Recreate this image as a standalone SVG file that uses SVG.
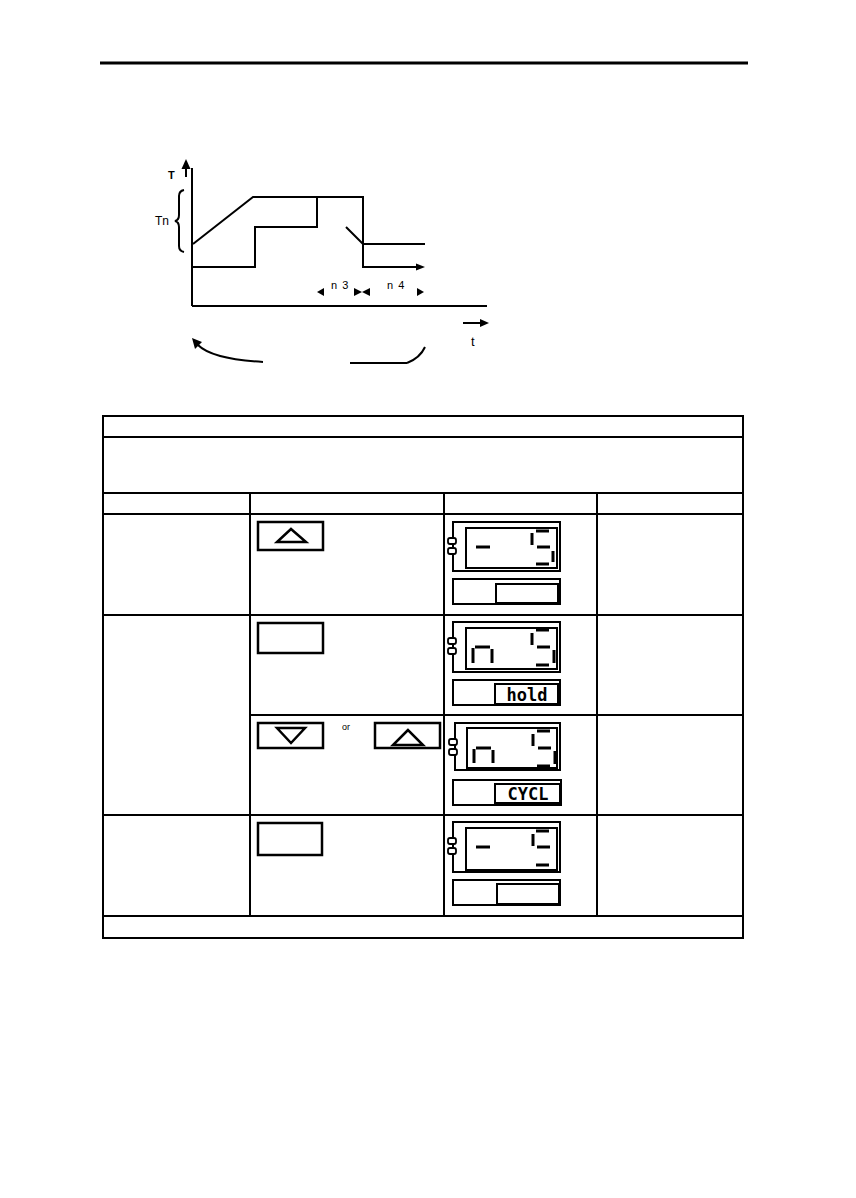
<svg xmlns="http://www.w3.org/2000/svg" width="856" height="1198" viewBox="0 0 856 1198">
<style>
.ln{stroke:#000;stroke-width:2;fill:none}
.tb{stroke:#000;stroke-width:2;fill:none}
.btn{stroke:#000;stroke-width:2.5;fill:#fff}
.tri{stroke:#000;stroke-width:2.5;fill:none;stroke-linejoin:miter}
.disp{stroke:#000;stroke-width:2;fill:#fff}
.seg{stroke:#000;stroke-width:3;stroke-linecap:butt}
.led{stroke:#000;stroke-width:1.8;fill:#fff}
.lbl{font-family:"Liberation Sans",Arial,sans-serif;fill:#000}
.dtxt{font-family:"DejaVu Sans Mono","Liberation Mono",monospace;font-size:17px;font-weight:bold;fill:#000}
</style>
<rect width="856" height="1198" fill="#fff"/>
<line x1="100" y1="63" x2="748" y2="63" stroke="#000" stroke-width="3"/>

<g id="graph">
  <line class="ln" x1="192" y1="168" x2="192" y2="306" stroke-width="2.5"/>
  <line class="ln" x1="192" y1="306" x2="487" y2="306"/>
  <line class="ln" x1="186" y1="177" x2="186" y2="166"/>
  <polygon points="186,159 181.5,169 190.5,169" fill="#000"/>
  <text class="lbl" x="168" y="179" font-size="11" font-weight="bold">T</text>
  <path class="ln" stroke-width="1.2" d="M184,190 Q179,191 179,196 L179,215 Q179,220 175,221 Q179,222 179,227 L179,246 Q179,251 184,252"/>
  <text class="lbl" x="155" y="225" font-size="12">Tn</text>
  <polyline class="ln" points="193,244 253,197 363,197 363,267 418,267"/>
  <polygon points="425,267 416,263.5 416,270.5" fill="#000"/>
  <polyline class="ln" points="193,267 255,267 255,227 317,227 317,197"/>
  <polyline class="ln" points="346,227 363,244 425,244"/>
  <polygon points="317,292 324,288 324,296" fill="#000"/>
  <text class="lbl" x="331" y="289" font-size="11" letter-spacing="1">n 3</text>
  <polygon points="354,288 354,296 362,292" fill="#000"/>
  <polygon points="370,288 370,296 362,292" fill="#000"/>
  <text class="lbl" x="387" y="289" font-size="11" letter-spacing="1">n 4</text>
  <polygon points="424,292 417,288 417,296" fill="#000"/>
  <line class="ln" x1="463" y1="323" x2="481" y2="323"/>
  <polygon points="489,323 480,319 480,327" fill="#000"/>
  <text class="lbl" x="471" y="346" font-size="13">t</text>
  <path class="ln" d="M263,362 Q212,359 198,345"/>
  <polygon points="192,338 202,342 195,349" fill="#000"/>
  <line class="ln" x1="350" y1="363" x2="407" y2="363"/>
  <path class="ln" d="M407,363 Q420,358 425,347"/>
</g>

<g id="table">
  <rect class="tb" x="103" y="416" width="640" height="522"/>
  <line class="tb" x1="103" y1="437" x2="743" y2="437"/>
  <line class="tb" x1="103" y1="493" x2="743" y2="493"/>
  <line class="tb" x1="103" y1="514" x2="743" y2="514"/>
  <line class="tb" x1="103" y1="615" x2="743" y2="615"/>
  <line class="tb" x1="250" y1="715" x2="743" y2="715"/>
  <line class="tb" x1="103" y1="815" x2="743" y2="815"/>
  <line class="tb" x1="103" y1="916" x2="743" y2="916"/>
  <line class="tb" x1="250" y1="493" x2="250" y2="916"/>
  <line class="tb" x1="444" y1="493" x2="444" y2="916"/>
  <line class="tb" x1="597" y1="493" x2="597" y2="916"/>
</g>

<g id="btn-up-1">
  <rect class="btn" x="258" y="522" width="65" height="28"/>
  <polygon class="tri" points="291,529 277,542 306,542"/>
</g>
<g id="btn-blank-2">
  <rect class="btn" x="258" y="623" width="65" height="30"/>
</g>
<g id="btn-down-3">
  <rect class="btn" x="258" y="723" width="65" height="25"/>
  <polygon class="tri" points="277,728 305,728 291,743"/>
</g>
<text class="lbl" x="342" y="730" font-size="9">or</text>
<g id="btn-up-3">
  <rect class="btn" x="375" y="723" width="65" height="25"/>
  <polygon class="tri" points="408,730 393,745 423,745"/>
</g>
<g id="btn-blank-4">
  <rect class="btn" x="258" y="823" width="64" height="32"/>
</g>

<g id="display-1">
  <rect class="disp" x="453" y="522" width="107" height="49"/>
  <rect class="disp" x="466" y="528" width="91" height="40"/>
  <rect class="led" x="448" y="538" width="8" height="6" rx="2"/>
  <rect class="led" x="448" y="548" width="8" height="6" rx="2"/>
  <line class="seg" x1="476" y1="547" x2="490" y2="547"/>
  <line class="seg" x1="536" y1="531" x2="549" y2="531"/>
  <line class="seg" x1="532" y1="533" x2="532" y2="545"/>
  <line class="seg" x1="537" y1="547" x2="550" y2="547"/>
  <line class="seg" x1="553" y1="551" x2="553" y2="562"/>
  <line class="seg" x1="536" y1="564" x2="549" y2="564"/>
  <rect class="disp" x="453" y="579" width="107" height="25"/>
  <rect class="disp" x="496" y="584" width="62" height="19"/>
</g>

<g id="display-2">
  <rect class="disp" x="453" y="622" width="107" height="50"/>
  <rect class="disp" x="466" y="628" width="91" height="41"/>
  <rect class="led" x="448" y="638" width="8" height="6" rx="2"/>
  <rect class="led" x="448" y="648" width="8" height="6" rx="2"/>
  <line class="seg" x1="473" y1="648" x2="473" y2="663"/>
  <line class="seg" x1="475" y1="647" x2="490" y2="647"/>
  <line class="seg" x1="492" y1="649" x2="492" y2="663"/>
  <line class="seg" x1="536" y1="630" x2="549" y2="630"/>
  <line class="seg" x1="532" y1="633" x2="532" y2="645"/>
  <line class="seg" x1="537" y1="647" x2="550" y2="647"/>
  <line class="seg" x1="554" y1="650" x2="554" y2="663"/>
  <line class="seg" x1="536" y1="665" x2="549" y2="665"/>
  <rect class="disp" x="453" y="680" width="107" height="25"/>
  <rect class="disp" x="495" y="684" width="63" height="20"/>
  <text class="dtxt" x="527" y="701" text-anchor="middle">hold</text>
</g>

<g id="display-3">
  <rect class="disp" x="455" y="723" width="105" height="47"/>
  <rect class="disp" x="467" y="728" width="90" height="40"/>
  <rect class="led" x="449" y="739" width="8" height="6" rx="2"/>
  <rect class="led" x="449" y="749" width="8" height="6" rx="2"/>
  <line class="seg" x1="474" y1="749" x2="474" y2="763"/>
  <line class="seg" x1="476" y1="748" x2="491" y2="748"/>
  <line class="seg" x1="493" y1="750" x2="493" y2="763"/>
  <line class="seg" x1="537" y1="731" x2="550" y2="731"/>
  <line class="seg" x1="533" y1="734" x2="533" y2="746"/>
  <line class="seg" x1="538" y1="748" x2="551" y2="748"/>
  <line class="seg" x1="555" y1="751" x2="555" y2="764"/>
  <line class="seg" x1="537" y1="766" x2="550" y2="766"/>
  <rect class="disp" x="453" y="780" width="108" height="25"/>
  <rect class="disp" x="495" y="784" width="65" height="19"/>
  <text class="dtxt" x="528" y="800" text-anchor="middle">CYCL</text>
</g>

<g id="display-4">
  <rect class="disp" x="453" y="822" width="107" height="50"/>
  <rect class="disp" x="466" y="828" width="91" height="42"/>
  <rect class="led" x="448" y="838" width="8" height="6" rx="2"/>
  <rect class="led" x="448" y="848" width="8" height="6" rx="2"/>
  <line class="seg" x1="476" y1="847" x2="490" y2="847"/>
  <line class="seg" x1="536" y1="831" x2="549" y2="831"/>
  <line class="seg" x1="533" y1="834" x2="533" y2="846"/>
  <line class="seg" x1="537" y1="847" x2="550" y2="847"/>
  <line class="seg" x1="536" y1="865" x2="549" y2="865"/>
  <rect class="disp" x="453" y="880" width="107" height="25"/>
  <rect class="disp" x="497" y="884" width="62" height="20"/>
</g>
</svg>
